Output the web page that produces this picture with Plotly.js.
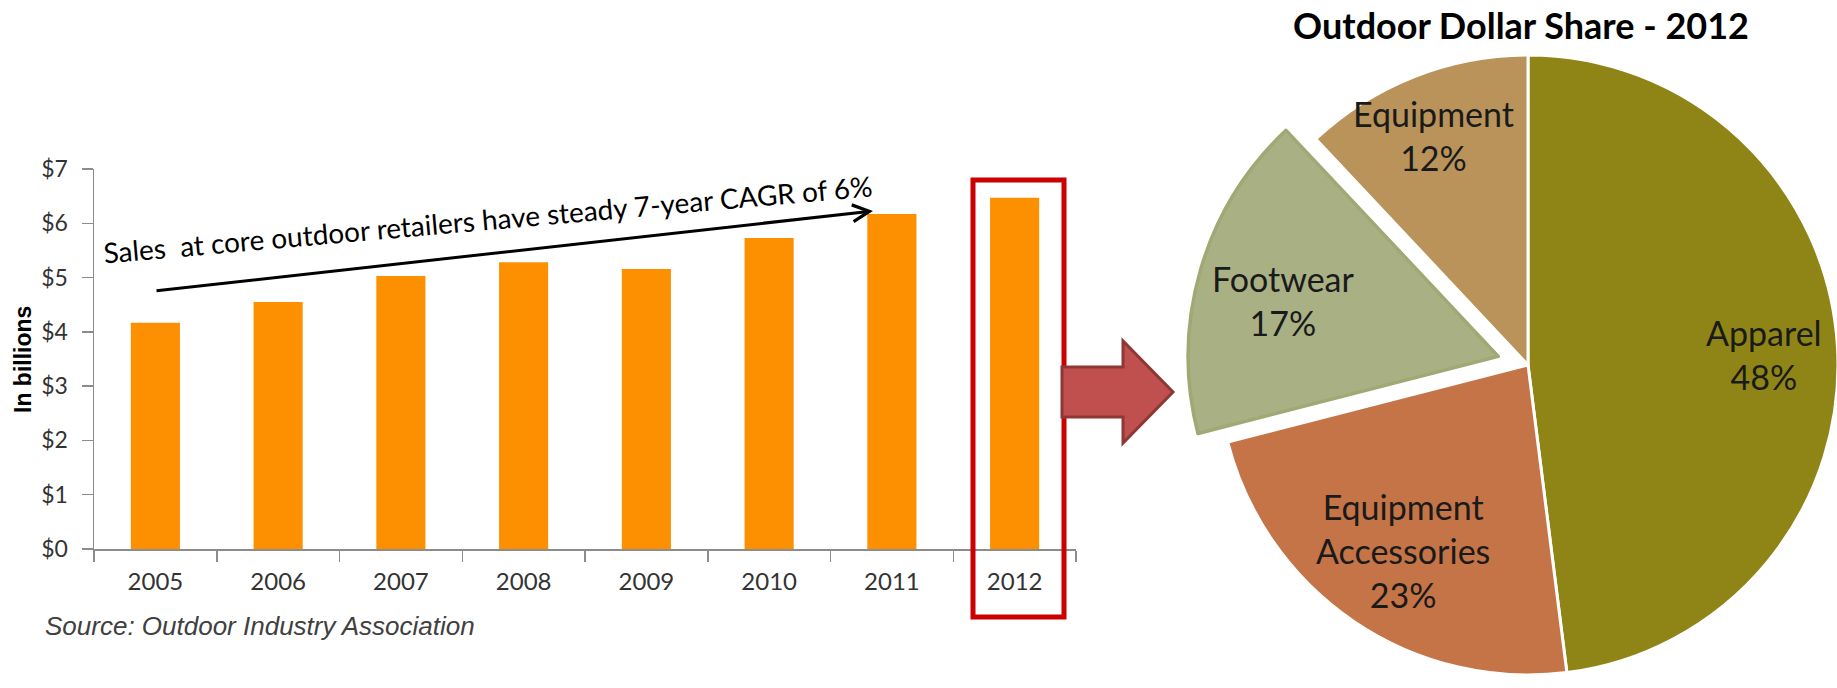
<!DOCTYPE html>
<html>
<head>
<meta charset="utf-8">
<script src="https://cdn.plot.ly/plotly-3.0.1.min.js"></script>
<style>
html, body { margin: 0; padding: 0; overflow: hidden; background: #ffffff; }
#chart { width: 1900px; height: 720px; }
</style>
</head>
<body>
<div id="chart"></div>
<script>
// ---- data ----
var years = ['2005', '2006', '2007', '2008', '2009', '2010', '2011', '2012'];
var sales = [4.17, 4.55, 5.03, 5.28, 5.16, 5.73, 6.17, 6.47];
var yTickVals = [0, 1, 2, 3, 4, 5, 6, 7];
var yTickText = ['$0', '$1', '$2', '$3', '$4', '$5', '$6', '$7'];
var shareLabels = ['Apparel', 'Equipment Accessories', 'Footwear', 'Equipment'];
var shareValues = [48, 23, 17, 12];
var shareColors = ['#8f8416', '#c47446', '#a9b184', '#b9935a'];
var trendText = 'Sales  at core outdoor retailers have steady 7-year CAGR of 6%';
var sourceText = 'Source: Outdoor Industry Association';
var pieTitle = 'Outdoor Dollar Share - 2012';

// ---- layout helpers (pixel -> paper) ----
var W = 1900, H = 720;
function px(x) { return x / W; }
function py(y) { return 1 - y / H; }

var barTrace = {
  type: 'bar', x: years, y: sales,
  marker: { color: '#fd9000' },
  width: 0.4,
  xaxis: 'x', yaxis: 'y',
  hoverinfo: 'skip', showlegend: false
};

var pieTrace = {
  type: 'pie', labels: shareLabels, values: shareValues,
  sort: false, direction: 'clockwise', rotation: 0,
  pull: [0, 0, 0.1, 0],
  marker: { colors: shareColors,
            line: { color: ['#ffffff', '#ffffff', '#a0a873', '#ffffff'], width: [3, 3, 3.5, 3] } },
  textinfo: 'none', hoverinfo: 'skip', showlegend: false,
  domain: { x: [px(1187), px(1869)], y: [py(706), py(24)] }
};

// pie label positions (pixels)
var pieLabelPos = [[1764, 354], [1403, 550], [1283, 300], [1433, 135]];
var pieAnnots = shareLabels.map(function (lab, i) {
  return {
    xref: 'paper', yref: 'paper', x: px(pieLabelPos[i][0]), y: py(pieLabelPos[i][1]),
    xanchor: 'center', yanchor: 'middle', showarrow: false,
    text: lab.replace(' ', '<br>') + '<br>' + shareValues[i] + '%',
    font: { family: 'Lato, sans-serif', size: 34, color: '#1a1a1a' }
  };
});

var layout = {
  width: W, height: H,
  margin: { l: 0, r: 0, t: 0, b: 0 },
  paper_bgcolor: '#ffffff', plot_bgcolor: '#ffffff',
  title: { text: '<b>' + pieTitle + '</b>', xref: 'paper', yref: 'paper',
           x: px(1521), y: py(26), xanchor: 'center', yanchor: 'middle',
           font: { family: 'Lato, sans-serif', size: 36, color: '#000000' } },
  xaxis: {
    domain: [px(94), px(1076)], anchor: 'y', type: 'category',
    showline: true, linecolor: '#8c8c8c', linewidth: 1.5,
    ticks: 'outside', tickson: 'boundaries', ticklen: 11, tickcolor: '#8c8c8c', tickwidth: 1.5,
    showgrid: false, zeroline: false, ticklabelstandoff: 11,
    tickfont: { family: 'Lato, sans-serif', size: 24, color: '#333333' },
    fixedrange: true
  },
  yaxis: {
    domain: [py(549), py(169)], anchor: 'x', range: [0, 7],
    tickvals: yTickVals, ticktext: yTickText,
    showline: true, linecolor: '#8c8c8c', linewidth: 1.5,
    ticks: 'outside', ticklen: 11, tickcolor: '#8c8c8c', tickwidth: 1.5,
    showgrid: false, zeroline: false, ticklabelstandoff: 9,
    tickfont: { family: 'Lato, sans-serif', size: 23, color: '#333333' },
    fixedrange: true
  },
  shapes: [
    { type: 'rect', xref: 'paper', yref: 'paper',
      x0: px(973), x1: px(1064), y0: py(617), y1: py(180),
      line: { color: '#cc0000', width: 5 }, fillcolor: 'rgba(0,0,0,0)' },
    { type: 'path', xref: 'paper', yref: 'paper',
      path: 'M' + px(1062) + ',' + py(367) + ' L' + px(1123) + ',' + py(367) +
            ' L' + px(1123) + ',' + py(341) + ' L' + px(1173) + ',' + py(392) +
            ' L' + px(1123) + ',' + py(443) + ' L' + px(1123) + ',' + py(417) +
            ' L' + px(1062) + ',' + py(417) + ' Z',
      fillcolor: '#c0504d', line: { color: '#8c3836', width: 3 } }
  ],
  annotations: [
    { xref: 'paper', yref: 'paper', x: px(873), y: py(211), text: '',
      showarrow: true, ax: 155 - 873, ay: 291 - 211, axref: 'pixel', ayref: 'pixel',
      arrowhead: 5, arrowsize: 1.1, arrowwidth: 3, arrowcolor: '#000000', standoff: 0, startstandoff: 0 },
    { xref: 'paper', yref: 'paper', x: px(488), y: py(219), text: trendText,
      textangle: -5, showarrow: false, xanchor: 'center', yanchor: 'middle',
      font: { family: 'Lato, sans-serif', size: 28, color: '#000000' } },
    { xref: 'paper', yref: 'paper', x: px(43), y: py(626), text: '<i>' + sourceText + '</i>',
      showarrow: false, xanchor: 'left', yanchor: 'middle',
      font: { family: 'Liberation Sans, Arial, sans-serif', size: 26, color: '#404040' } },
    { xref: 'paper', yref: 'paper', x: px(23), y: py(360), text: '<b>In billions</b>',
      textangle: -90, showarrow: false, xanchor: 'center', yanchor: 'middle',
      font: { family: 'Liberation Sans, Arial, sans-serif', size: 23, color: '#000000' } }
  ].concat(pieAnnots)
};

Plotly.newPlot('chart', [barTrace, pieTrace], layout, { displayModeBar: false, staticPlot: true });
</script>
</body>
</html>
